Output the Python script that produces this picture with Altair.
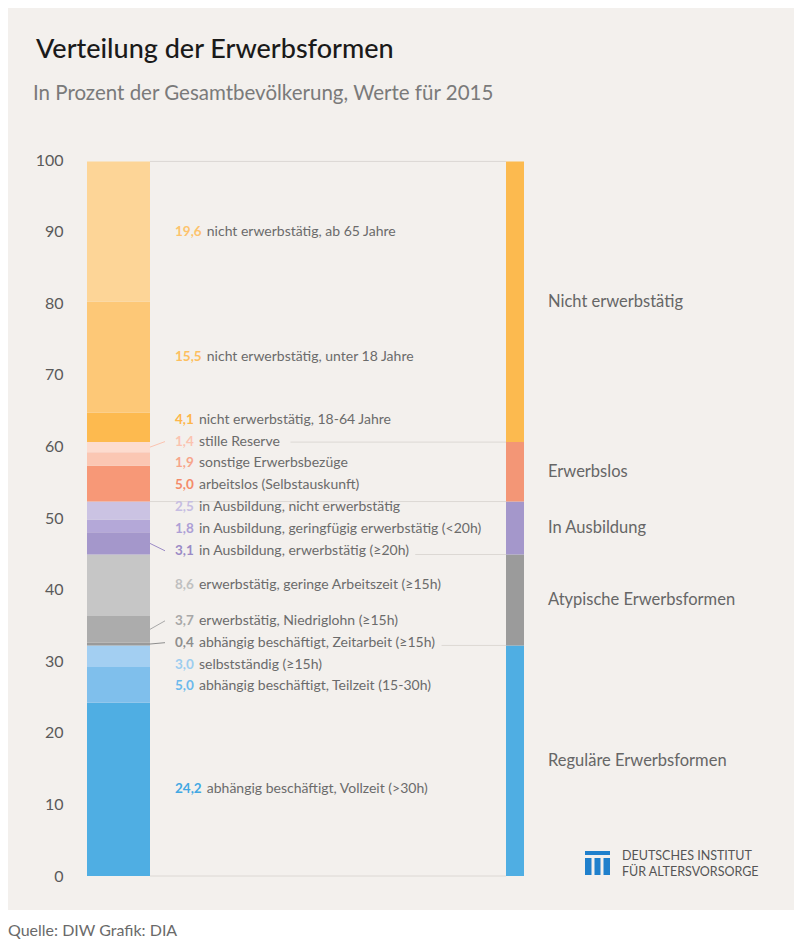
import altair as alt
import pandas as pd

# ---------------- data ----------------
values = [24.2, 5.0, 3.0, 0.4, 3.7, 8.6, 3.1, 1.8, 2.5, 5.0, 1.9, 1.4, 4.1, 15.5, 19.6]
descriptions = [
    "abhängig beschäftigt, Vollzeit (>30h)",
    "abhängig beschäftigt, Teilzeit (15-30h)",
    "selbstständig (≥15h)",
    "abhängig beschäftigt, Zeitarbeit (≥15h)",
    "erwerbstätig, Niedriglohn (≥15h)",
    "erwerbstätig, geringe Arbeitszeit (≥15h)",
    "in Ausbildung, erwerbstätig (≥20h)",
    "in Ausbildung, geringfügig erwerbstätig (<20h)",
    "in Ausbildung, nicht erwerbstätig",
    "arbeitslos (Selbstauskunft)",
    "sonstige Erwerbsbezüge",
    "stille Reserve",
    "nicht erwerbstätig, 18-64 Jahre",
    "nicht erwerbstätig, unter 18 Jahre",
    "nicht erwerbstätig, ab 65 Jahre",
]
groups = (["Reguläre Erwerbsformen"] * 3 + ["Atypische Erwerbsformen"] * 3
          + ["In Ausbildung"] * 3 + ["Erwerbslos"] * 3 + ["Nicht erwerbstätig"] * 3)
seg_colors = ["#4faee3", "#7fbfec", "#a3cff2", "#9a9a9a", "#acacac", "#c6c6c6",
              "#a497cb", "#b4a8d8", "#cbc3e3", "#f79877", "#fbc7b3", "#fddccf",
              "#fdba4f", "#fdc877", "#fdd597"]
num_colors = ["#42a8e3", "#6bb9ec", "#9ccdf0", "#8e8e8e", "#a8a8a8", "#c0c0c0",
              "#9b8bc6", "#ad9fd6", "#c6bde2", "#f38b6a", "#f7a58a", "#fbc3b0",
              "#fdb64a", "#fdbf5f", "#fdc36c"]
connector = [False, False, False, True, True, False, True, False, False,
             False, False, True, False, False, False]

group_names = ["Reguläre Erwerbsformen", "Atypische Erwerbsformen", "In Ausbildung",
               "Erwerbslos", "Nicht erwerbstätig"]
group_colors = ["#4faee3", "#9b9b9b", "#a497cb", "#f39676", "#fcba4f"]
y_ticks = list(range(0, 101, 10))

title_text = "Verteilung der Erwerbsformen"
subtitle_text = "In Prozent der Gesamtbevölkerung, Werte für 2015"
footer_text = "Quelle: DIW  Grafik: DIA"
logo_lines = ["DEUTSCHES INSTITUT", "FÜR ALTERSVORSORGE"]

FONT = "Lato"
NUM_SIZE = 13.5
DESC_SIZE = 14
n = len(values)

# ---------------- derived ----------------
y0, acc = [], 0.0
for v in values:
    y0.append(round(acc, 3))
    acc += v
y1 = [round(a + v, 3) for a, v in zip(y0, values)]
mid = [(a + b) / 2 for a, b in zip(y0, y1)]

# label de-overlap (cluster centering)
GAP = 3.05
def cl_start(cl):
    return sum(mid[i] - k * GAP for k, i in enumerate(cl)) / len(cl)

clusters = []
for i in range(n):
    clusters.append([i])
    while len(clusters) > 1:
        a, b = clusters[-2], clusters[-1]
        if cl_start(a) + len(a) * GAP > cl_start(b):
            clusters[-2:] = [a + b]
        else:
            break
label_y = [0.0] * n
for cl in clusters:
    s = cl_start(cl)
    for k, i in enumerate(cl):
        label_y[i] = s + k * GAP

NARROW = set("ijlrtf.,;:!()[] -'|")
WIDE = set("mwMW")
def text_w(s, size, bold=False):
    w = 0.0
    for ch in s:
        if ch in NARROW:
            w += 0.28
        elif ch in WIDE:
            w += 0.8
        elif ch.isdigit():
            w += 0.58 if bold else 0.55
        elif ch.isupper():
            w += 0.65
        else:
            w += 0.53
    return w * size

BAR_R = 63
NUM_X = 88
RIGHT_L = 419
num_labels = [f"{v:.1f}".replace(".", ",") for v in values]
desc_x = [NUM_X + text_w(s, NUM_SIZE, True) + 4.5 for s in num_labels]

seg = pd.DataFrame({
    "y": y0, "y2": y1, "mid": mid, "ly": label_y,
    "num": num_labels, "desc": descriptions, "dx": desc_x,
    "color": seg_colors, "ncolor": num_colors, "conn": connector, "group": groups,
})

grp_rows = []
for g, c in zip(group_names, group_colors):
    lo = min(a for a, gg in zip(y0, groups) if gg == g)
    hi = max(b for b, gg in zip(y1, groups) if gg == g)
    grp_rows.append({"group": g, "y": lo, "y2": hi, "mid": (lo + hi) / 2, "color": c})
grp = pd.DataFrame(grp_rows)

bounds = [0.0] + [r["y2"] for r in grp_rows]
sep_rows = []
for b in bounds:
    start = BAR_R
    for i in range(n):
        if abs(label_y[i] - b) < 0.7:
            start = max(start, desc_x[i] + text_w(descriptions[i], DESC_SIZE) + 7)
    sep_rows.append({"y": b, "x": start})
sep = pd.DataFrame(sep_rows)

one = pd.DataFrame({"a": [0]})

# ---------------- chart ----------------
yscale = alt.Scale(domain=[0, 100], nice=False, zero=True)
yax = alt.Axis(values=y_ticks, title=None, domain=False, ticks=False, grid=False,
               labelPadding=24, labelFontSize=16, labelColor="#5a5a5a", labelFont=FONT,
               labelFlush=False, labelOverlap=False)

footer_bg = alt.Chart(one).mark_rect(color="#ffffff").encode(
    x=alt.value(-79), x2=alt.value(707), y=alt.value(750), y2=alt.value(800))

seps = alt.Chart(sep).mark_rule(color="#dcd8d4", strokeWidth=1).encode(
    x=alt.X("x:Q", scale=None), x2=alt.value(RIGHT_L),
    y=alt.Y("y:Q", scale=yscale, axis=yax))

left_bar = alt.Chart(seg).mark_rect().encode(
    x=alt.value(0), x2=alt.value(BAR_R),
    y=alt.Y("y:Q", scale=yscale, axis=yax), y2="y2:Q",
    color=alt.Color("color:N", scale=None))

right_bar = alt.Chart(grp).mark_rect().encode(
    x=alt.value(RIGHT_L), x2=alt.value(437),
    y=alt.Y("y:Q", scale=yscale, axis=yax), y2="y2:Q",
    color=alt.Color("color:N", scale=None))

leaders = alt.Chart(seg).transform_filter("datum.conn").mark_rule(strokeWidth=1).encode(
    x=alt.value(BAR_R), x2=alt.value(78),
    y=alt.Y("mid:Q", scale=yscale, axis=yax), y2="ly:Q",
    color=alt.Color("ncolor:N", scale=None))

nums = alt.Chart(seg).mark_text(font=FONT, fontSize=NUM_SIZE, fontWeight="bold",
                                align="left", baseline="middle").encode(
    x=alt.value(NUM_X), y=alt.Y("ly:Q", scale=yscale, axis=yax),
    text="num:N", color=alt.Color("ncolor:N", scale=None))

descs = alt.Chart(seg).mark_text(font=FONT, fontSize=DESC_SIZE, color="#6b6b6b",
                                 align="left", baseline="middle").encode(
    x=alt.X("dx:Q", scale=None), y=alt.Y("ly:Q", scale=yscale, axis=yax),
    text="desc:N")

grp_labels = alt.Chart(grp).mark_text(font=FONT, fontSize=16.5, color="#666666",
                                      align="left", baseline="middle").encode(
    x=alt.value(461), y=alt.Y("mid:Q", scale=yscale, axis=yax), text="group:N")

title = alt.Chart(one).mark_text(font=FONT, fontSize=27, fontWeight=500, color="#1a1a1a",
                                 align="left", baseline="alphabetic", text=title_text).encode(
    x=alt.value(-51), y=alt.value(-102))
subtitle = alt.Chart(one).mark_text(font=FONT, fontSize=20.5, color="#7a7a7a",
                                    align="left", baseline="alphabetic", text=subtitle_text).encode(
    x=alt.value(-54), y=alt.value(-60))
footer = alt.Chart(one).mark_text(font=FONT, fontSize=16, color="#6a6a6a",
                                  align="left", baseline="alphabetic", text=footer_text).encode(
    x=alt.value(-79), y=alt.value(776))

logo_color = "#1f80cc"
logo_top = alt.Chart(one).mark_rect(color=logo_color).encode(
    x=alt.value(498), x2=alt.value(523), y=alt.value(691), y2=alt.value(695))
logo_b1 = alt.Chart(one).mark_rect(color=logo_color).encode(
    x=alt.value(498), x2=alt.value(504.5), y=alt.value(698), y2=alt.value(715))
logo_b2 = alt.Chart(one).mark_rect(color=logo_color).encode(
    x=alt.value(507.5), x2=alt.value(513.5), y=alt.value(698), y2=alt.value(715))
logo_b3 = alt.Chart(one).mark_rect(color=logo_color).encode(
    x=alt.value(516.5), x2=alt.value(523), y=alt.value(698), y2=alt.value(715))
logo_t1 = alt.Chart(one).mark_text(font=FONT, fontSize=12.5, color="#555555",
                                   align="left", baseline="alphabetic", text=logo_lines[0]).encode(
    x=alt.value(535), y=alt.value(700))
logo_t2 = alt.Chart(one).mark_text(font=FONT, fontSize=12.5, color="#555555",
                                   align="left", baseline="alphabetic", text=logo_lines[1]).encode(
    x=alt.value(535), y=alt.value(716))

chart = alt.layer(
    footer_bg, seps, left_bar, right_bar, leaders, nums, descs, grp_labels,
    title, subtitle, footer, logo_top, logo_b1, logo_b2, logo_b3, logo_t1, logo_t2,
).properties(
    width=437, height=716,
    padding={"left": 79, "top": 152, "right": 270, "bottom": 64},
    autosize=alt.AutoSizeParams(type="none"),
    background="#f3f0ed",
).configure_view(stroke=None)

chart.save("out.html", embed_options={"renderer": "svg", "actions": False})
